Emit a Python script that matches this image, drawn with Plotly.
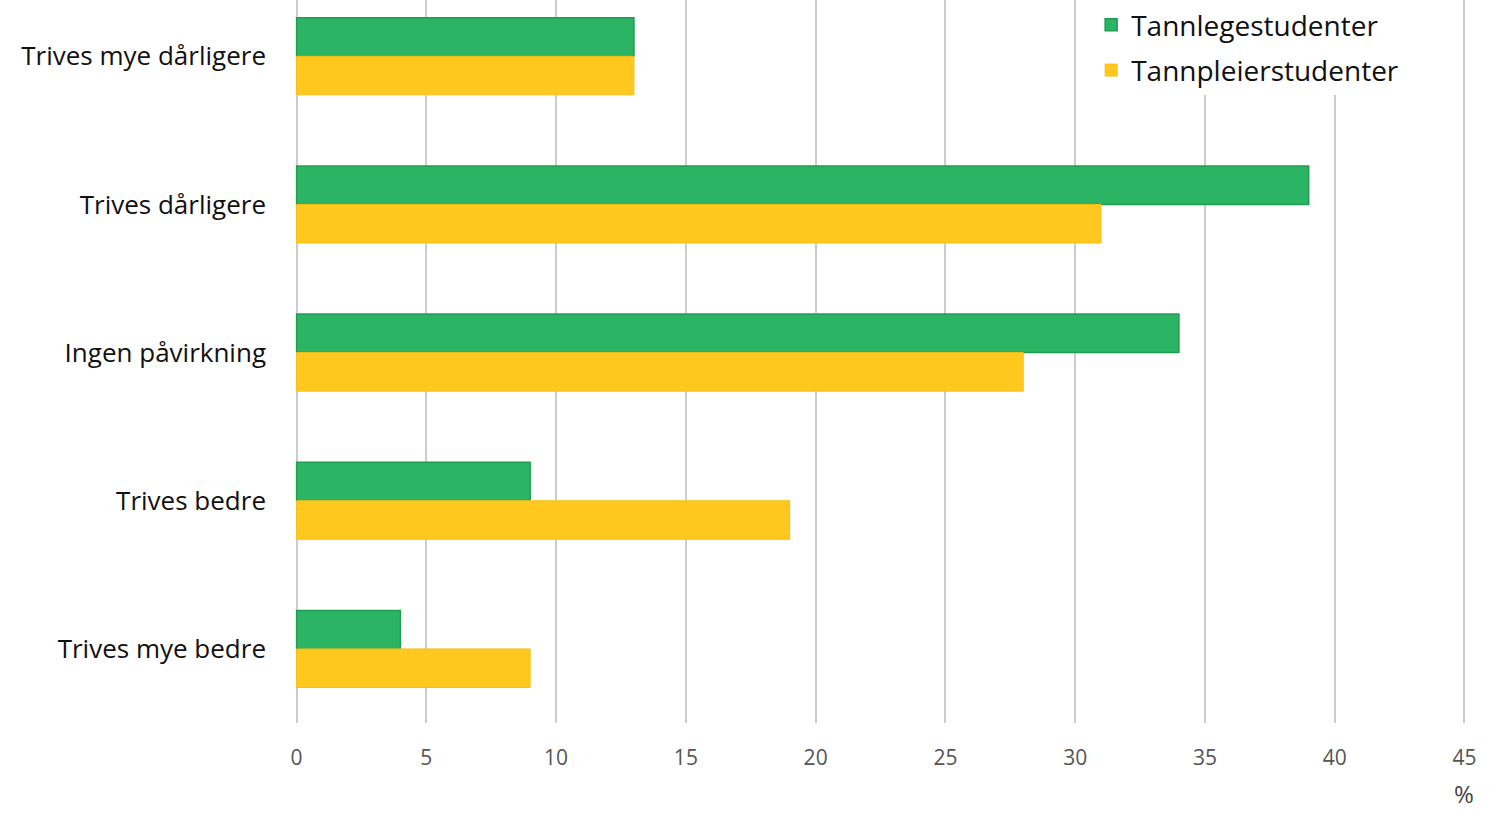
import plotly.graph_objects as go

categories = ["Trives mye dårligere", "Trives dårligere", "Ingen påvirkning", "Trives bedre", "Trives mye bedre"]
tannlege = [13, 39, 34, 9, 4]
tannpleier = [13, 31, 28, 19, 9]
x_ticks = [0, 5, 10, 15, 20, 25, 30, 35, 40, 45]

green = "#2bb463"
yellow = "#ffc81e"
font_fam = "Open Sans"

fig = go.Figure()
fig.add_trace(go.Bar(y=categories, x=tannlege, orientation="h", name="Tannlegestudenter",
                     legendgroup="a",
                     marker=dict(color=green, line=dict(color="#1f9e52", width=1.5))))
fig.add_trace(go.Bar(y=categories, x=tannpleier, orientation="h", name="Tannpleierstudenter",
                     legendgroup="b",
                     marker=dict(color=yellow, line=dict(color="#f5c018", width=1))))

pad = 0.1
unit = (1464 - 297) / 45.0
L = 297 - pad * unit
W = (45 + 2 * pad) * unit
R = 1497 - L - W
fig.update_layout(
    width=1497, height=827,
    margin=dict(l=L, r=R, t=0, b=104),
    paper_bgcolor="white", plot_bgcolor="white",
    barmode="group", bargap=0.48, bargroupgap=0,
    font=dict(family=font_fam),
    showlegend=True,
    legend=dict(x=(1091 - L) / W, y=1.0, xanchor="left", yanchor="top",
                traceorder="grouped", tracegroupgap=6,
                font=dict(size=28, color="#111111", family=font_fam),
                bgcolor="rgba(255,255,255,1)"),
)
fig.update_xaxes(range=[-pad, 45 + pad], tickvals=x_ticks, showgrid=True, gridcolor="#cccccc", gridwidth=2,
                 zeroline=False, showline=False, ticks="",
                 tickfont=dict(size=21, color="#555555", family=font_fam), ticklabelstandoff=20)
fig.update_yaxes(type="category", categoryorder="array", categoryarray=categories,
                 range=[4.5, -0.38], showgrid=False, zeroline=False, showline=False, ticks="",
                 tickfont=dict(size=26, color="#111111", family=font_fam, weight=500), ticklabelstandoff=27)
fig.add_annotation(text="%", x=45, y=-0.097, xref="x", yref="paper", showarrow=False,
                   xanchor="center", yanchor="middle", font=dict(size=24, color="#444444", family=font_fam))

fig.write_html("out.html")
